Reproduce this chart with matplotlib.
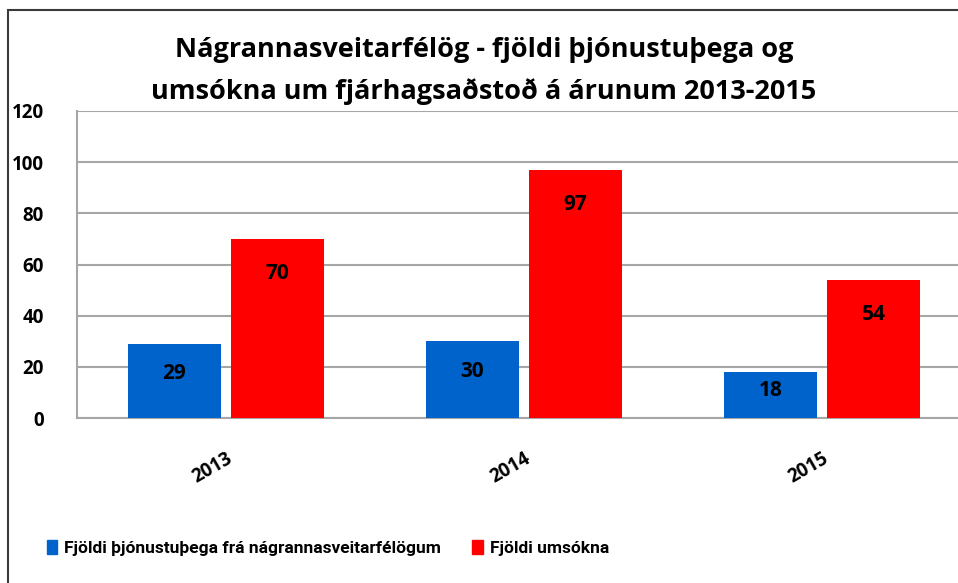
import matplotlib
matplotlib.use("Agg")
from matplotlib import pyplot as plt
from matplotlib.patches import Rectangle, Patch
import numpy as np

# data
years = ['2013', '2014', '2015']
thjonustuthegar = [29, 30, 18]
umsoknir = [70, 97, 54]
series_names = ['Fjöldi þjónustuþega frá nágrannasveitarfélögum', 'Fjöldi umsókna']
yticks = [0, 20, 40, 60, 80, 100, 120]

blue = '#0063CC'
red = '#FF0000'
grid_c = '#A6A6A6'
fnt = 'Open Sans'

fig = plt.figure(figsize=(9.58, 5.83), dpi=100)
# axes is cut off on the right side, like in the reference
ax = fig.add_axes([77/958, 1 - 418/583, 894/958, 307/583])

x = np.arange(len(years))
w = 0.312
off = 0.173
b1 = ax.bar(x - off, thjonustuthegar, w, color=blue, zorder=3)
b2 = ax.bar(x + off, umsoknir, w, color=red, zorder=3)

for bars, vals in ((b1, thjonustuthegar), (b2, umsoknir)):
    for r, v in zip(bars, vals):
        ypos = max(v - 13.5, v * 0.6)
        ax.text(r.get_x() + r.get_width() / 2, ypos, str(v), ha='center', va='center',
                fontsize=15, fontweight='bold', family=fnt, color='black', zorder=4)

ax.set_xlim(-0.5, 2.5)
ax.set_ylim(0, 120)
ax.set_yticks(yticks)
ax.set_yticklabels([str(t) for t in yticks], fontsize=13.5, fontweight='bold', family=fnt)
ax.set_xticks(x)
ax.set_xticklabels(years, fontsize=13.5, fontweight='bold', family=fnt,
                   rotation=30, ha='right', rotation_mode='anchor')
ax.tick_params(axis='y', length=0, pad=24)
ax.tick_params(axis='x', length=0, pad=22)

ax.yaxis.grid(True, color=grid_c, linewidth=1.5, zorder=0)
for s in ['top', 'right']:
    ax.spines[s].set_visible(False)
for s in ['left', 'bottom']:
    ax.spines[s].set_color(grid_c)
    ax.spines[s].set_linewidth(1.5)

fig.text(0.505, 1 - 50/583, 'Nágrannasveitarfélög - fjöldi þjónustuþega og',
         ha='center', va='center', fontsize=19.5, fontweight='bold', family=fnt)
fig.text(0.505, 1 - 92/583, 'umsókna um fjárhagsaðstoð á árunum 2013-2015',
         ha='center', va='center', fontsize=19.5, fontweight='bold', family=fnt)

handles = [Patch(color=blue), Patch(color=red)]
fig.legend(handles, series_names, loc='center', bbox_to_anchor=(328/958, 1 - 548/583),
           ncol=2, frameon=False, handlelength=0.6, handleheight=0.9, handletextpad=0.4,
           columnspacing=1.8,
           prop={'family': 'Roboto', 'weight': 'bold', 'size': 12.5})

# outer border of the chart
fig.patches.append(Rectangle((8/958, -0.1), 1.2, 1 - 10/583 + 0.1, transform=fig.transFigure,
                             fill=False, edgecolor='#3A3A3A', linewidth=1.5))

fig.savefig('out.png', dpi=100)
